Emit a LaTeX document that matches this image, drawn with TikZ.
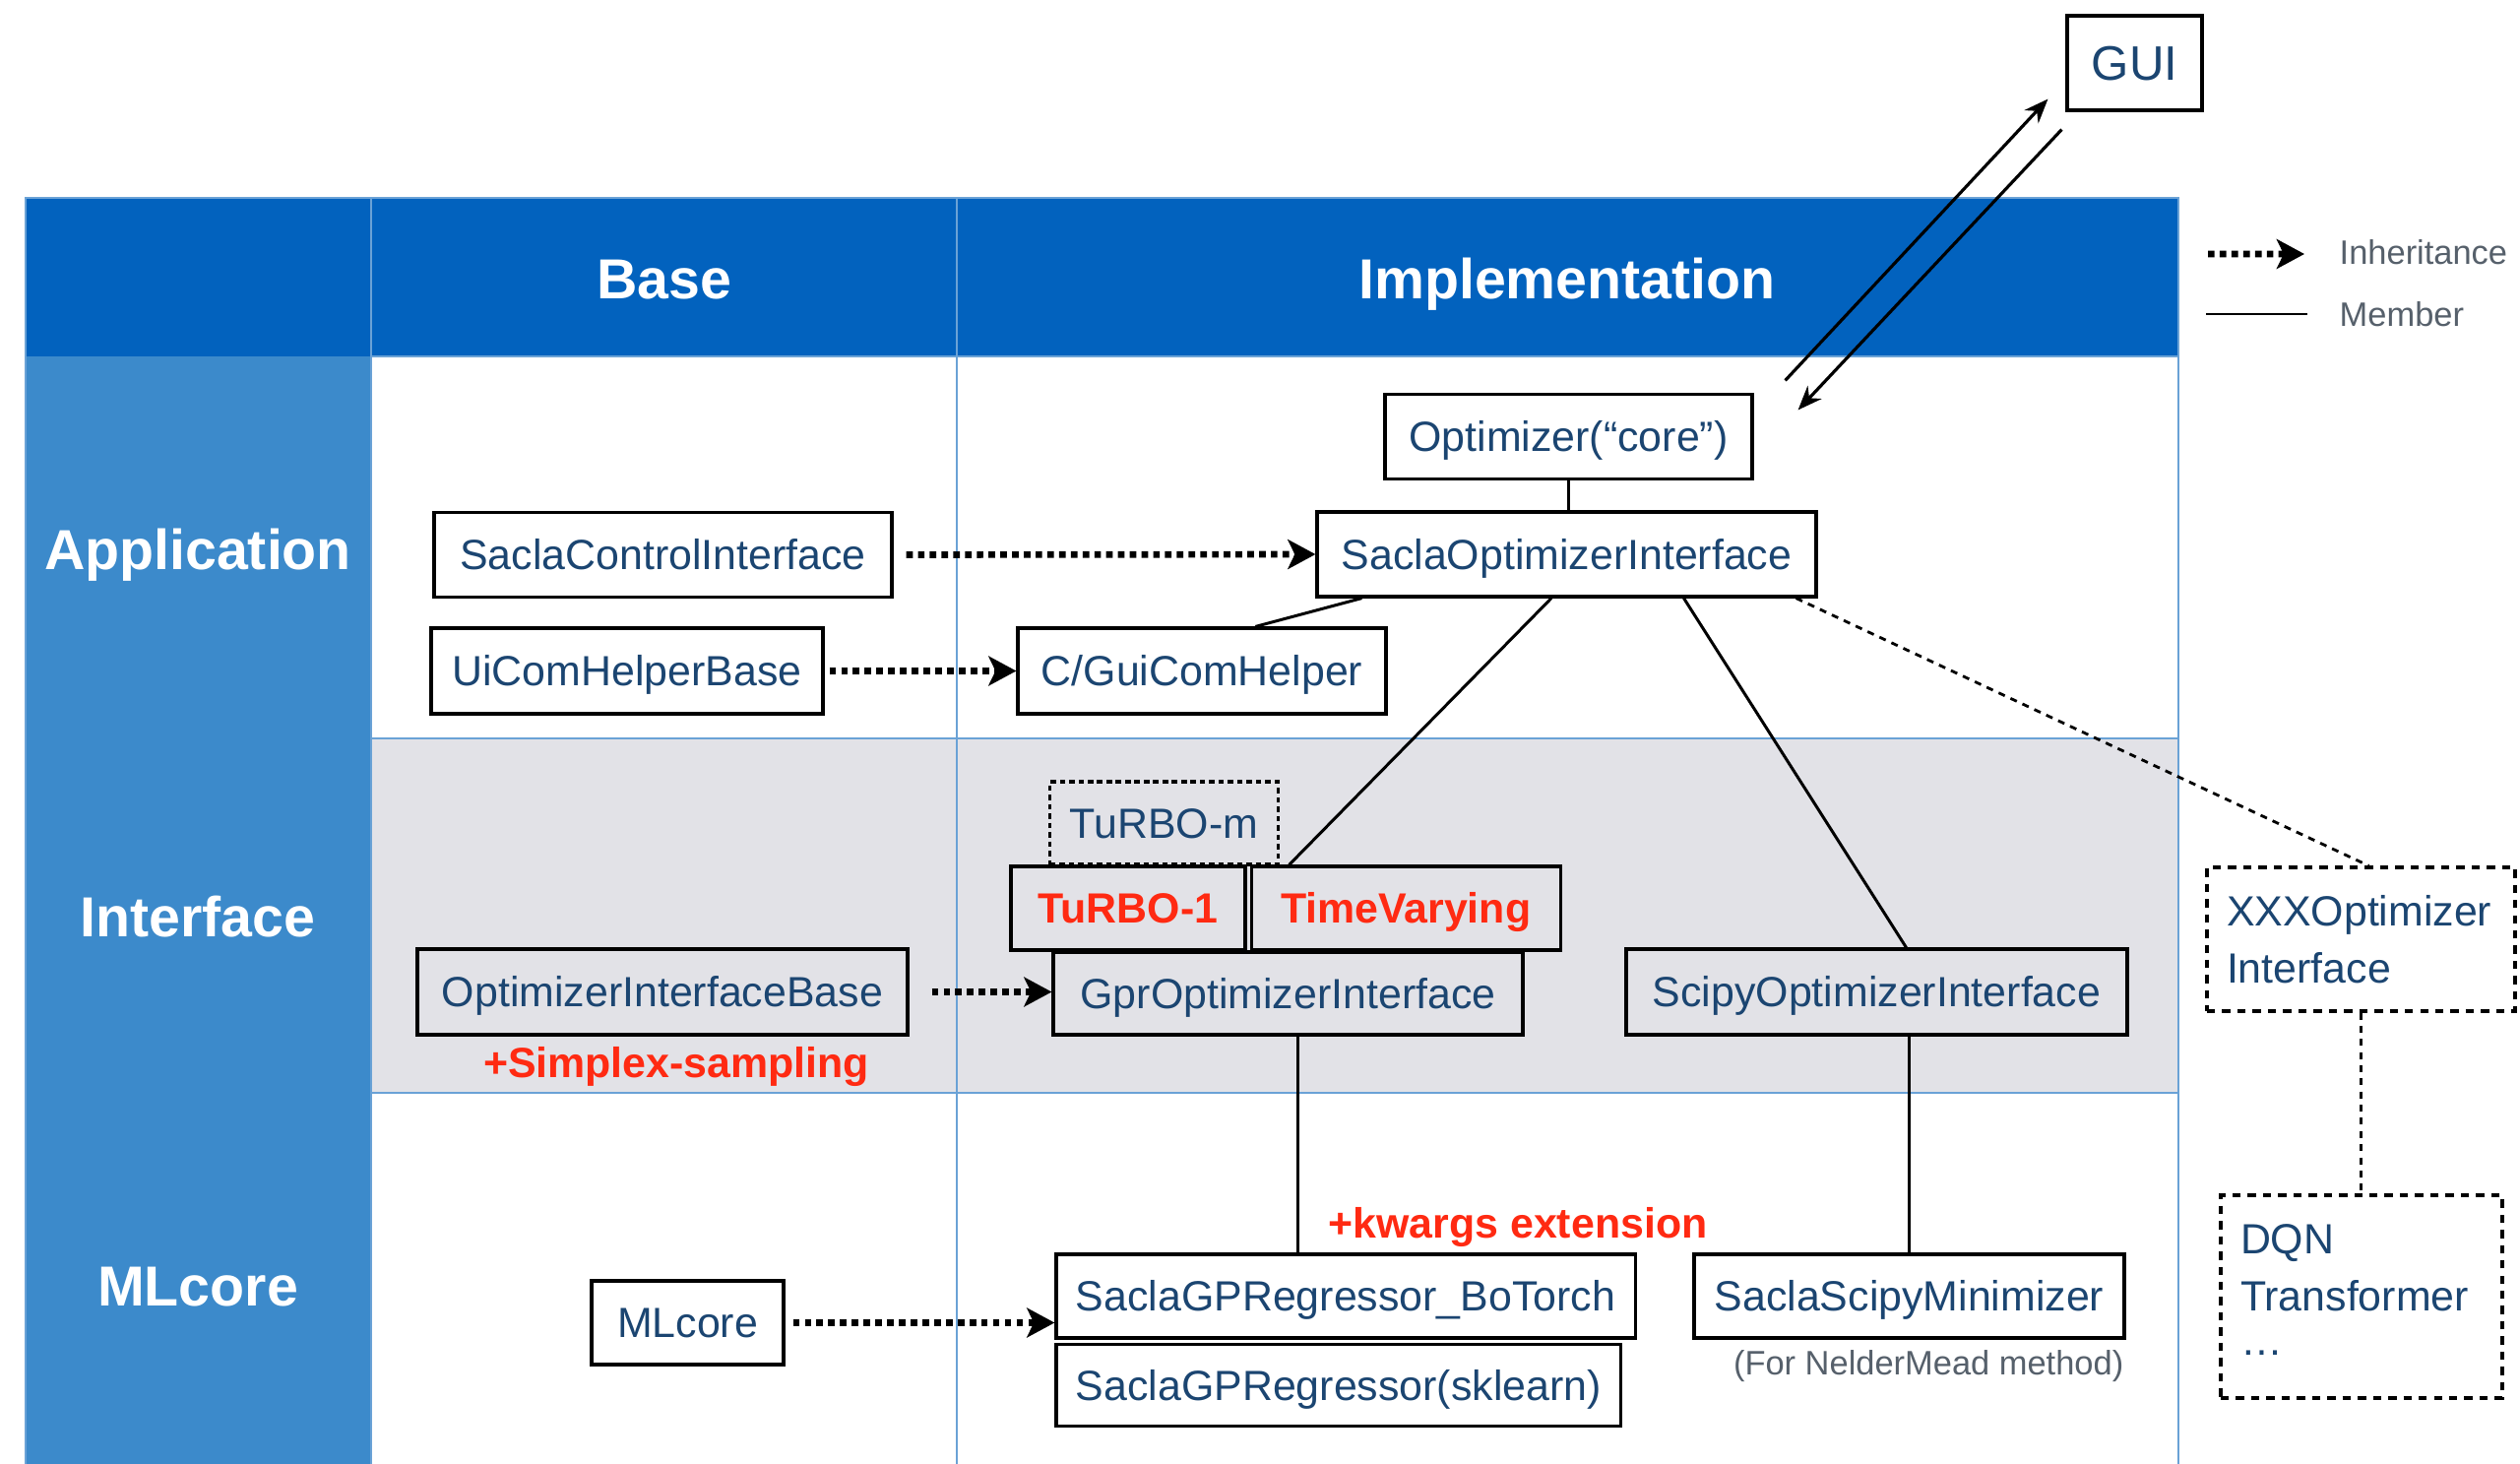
\documentclass[tikz,border=0pt]{standalone}
\usepackage{fontspec}
\setmainfont{Liberation Sans}
\usepackage{xcolor}
\usetikzlibrary{arrows.meta,positioning,backgrounds}
\definecolor{HeadBlue}{HTML}{0262BE}
\definecolor{SideBlue}{HTML}{3C8ACB}
\definecolor{RowGray}{HTML}{E2E2E7}
\definecolor{GridBlue}{HTML}{6AA2D6}
\definecolor{NavyTxt}{HTML}{1B4571}
\definecolor{HotRed}{HTML}{FF2A12}
\definecolor{NoteGray}{HTML}{56606B}
\tikzset{
  BX/.style={rectangle,draw,line width=0.9pt,text=NavyTxt,
             font=\fontsize{12.2}{16.5}\selectfont,inner xsep=0.2cm},
  cls/.style={BX,minimum height=0.86cm,text height=8.8pt,text depth=0pt},
  clsD/.style={cls,dash pattern=on 1.6pt off 1.1pt},
  grpD/.style={BX,align=left,dash pattern=on 2.4pt off 2pt},
  hot/.style={cls,text=HotRed,font=\fontsize{12.2}{14}\selectfont\bfseries},
  note/.style={text=HotRed,font=\fontsize{12.2}{14}\selectfont\bfseries},
  hdr/.style={text=white,font=\fontsize{16.3}{19}\selectfont\bfseries,
              text height=11.7pt,text depth=0pt},
  lgd/.style={text=NoteGray,font=\fontsize{9.8}{12}\selectfont,inner sep=0pt},
  inh/.style={line width=1.9pt,dash pattern=on 1.9pt off 1.5pt,
              -{Stealth[length=8pt,width=8.5pt,inset=2pt]}},
  mem/.style={line width=0.85pt},
  dsh/.style={line width=0.8pt,dash pattern=on 2pt off 1.8pt},
  flow/.style={line width=0.9pt,-{Stealth[length=7pt,width=5.5pt]}}
}

\begin{document}
\begin{tikzpicture}
  \useasboundingbox (0,0) rectangle (25.6,-14.87);

  \node[hdr] (hbase) at (6.745,-2.83) {Base};
  \node[hdr] (himpl) at (15.92,-2.83) {Implementation};
  \node[hdr] (rapp) at (2.01,-5.58) {Application};
  \node[hdr] (rifc) at (2.01,-9.31) {Interface};
  \node[hdr] (rml) at (2.01,-13.06) {MLcore};

  \node[cls,minimum width=1.37cm,minimum height=0.96cm,text height=10pt,font=\fontsize{14}{16}\selectfont] (gui) at (21.685,-0.64) {GUI};
  \node[cls,minimum width=3.73cm] (core) at (15.935,-4.435) {Optimizer(“core”)};
  \node[cls,minimum width=5.07cm] (soi) at (15.915,-5.63) {SaclaOptimizerInterface};
  \node[cls,minimum width=4.65cm] (sci) at (6.735,-5.635) {SaclaControlInterface};
  \node[cls,minimum width=3.98cm,minimum height=0.87cm] (uchb) at (6.37,-6.815) {UiComHelperBase};
  \node[cls,minimum width=3.74cm,minimum height=0.87cm] (gch) at (12.21,-6.815) {C/GuiComHelper};

  \node[hot,minimum width=2.38cm,minimum height=0.85cm] (tr1) at (11.46,-9.225) {TuRBO-1};
  \node[hot,minimum width=3.14cm,minimum height=0.85cm,right=0.03cm of tr1] (tv) {TimeVarying};
  \node[clsD,minimum width=2.31cm,minimum height=0.84cm] (trm) at (11.825,-8.36) {TuRBO-m};
  \node[cls,minimum width=4.77cm,minimum height=0.84cm] (goi) at (13.085,-10.09) {GprOptimizerInterface};
  \node[cls,minimum width=4.98cm,minimum height=0.87cm] (oib) at (6.73,-10.075) {OptimizerInterfaceBase};
  \node[cls,minimum width=5.09cm,minimum height=0.87cm] (spoi) at (19.065,-10.075) {ScipyOptimizerInterface};
  \node[note] (simplex) at (6.87,-10.83) {+Simplex-sampling};

  \node[grpD,minimum width=3.13cm,minimum height=1.46cm,text width=2.73cm] (xxx) at (23.985,-9.54) {XXXOptimizer\\Interface};
  \node[grpD,minimum width=2.86cm,minimum height=2.06cm,text width=2.46cm] (dqn) at (23.99,-13.17) {DQN\\Transformer\\\raisebox{0.6ex}{…}};

  \node[cls,minimum width=1.95cm,minimum height=0.85cm] (mlc) at (6.985,-13.435) {MLcore};
  \node[cls,minimum width=5.86cm,minimum height=0.85cm] (bot) at (13.67,-13.165) {SaclaGPRegressor\_BoTorch};
  \node[cls,minimum width=5.68cm,minimum height=0.83cm,below right=0.03cm and 0cm of bot.south west] (skl) {SaclaGPRegressor(sklearn)};
  \node[cls,minimum width=4.37cm,minimum height=0.85cm] (ssm) at (19.395,-13.165) {SaclaScipyMinimizer};
  \node[note] (kwargs) at (15.42,-12.46) {+kwargs extension};
  \node[lgd,anchor=east] (nm) at (21.58,-13.88) {(For NelderMead method)};

  \node[lgd,anchor=west] (lgI) at (23.76,-2.56) {Inheritance};
  \node[lgd,anchor=west] (lgM) at (23.76,-3.19) {Member};
  \coordinate (lgIa) at (22.43,-2.58);
  \coordinate (lgMa) at (22.41,-3.19);
  \draw[inh] (lgIa) -- ([xshift=-0.35cm,yshift=-0.02cm]lgI.west);
  \draw[mem] (lgMa) -- ([xshift=-0.32cm]lgM.west);

  \draw[flow] ([shift={(0.32,0.125)}]core.north east) -- ([shift={(-0.18,0.13)}]gui.south west);
  \draw[flow] ([shift={(-0.04,-0.18)}]gui.south west) -- ([shift={(0.45,-0.175)}]core.north east);

  \draw[mem] (core.south) -- (core.south |- soi.north);
  \draw[mem] ([xshift=0.47cm]soi.south west) -- ([xshift=2.43cm]gch.north west);
  \draw[mem] ([xshift=-0.155cm]soi.south) -- ([xshift=0.40cm]tv.north west);
  \draw[mem] ([xshift=1.19cm]soi.south) -- ([xshift=0.30cm]spoi.north);
  \draw[mem] ([xshift=0.10cm]goi.south) -- ([xshift=0.10cm]goi.south |- bot.north);
  \draw[mem] (ssm.north) -- (ssm.north |- spoi.south);
  \draw[dsh] ([xshift=-0.22cm]soi.south east) -- ([xshift=0.08cm]xxx.north);
  \draw[dsh] (xxx.south) -- (xxx.south |- dqn.north);

  \draw[inh] ([xshift=0.13cm]sci.east) -- (soi.west);
  \draw[inh] ([xshift=0.05cm]uchb.east) -- (gch.west);
  \draw[inh] ([xshift=0.23cm]oib.east) -- (oib.east -| goi.west);
  \draw[inh] ([xshift=0.08cm]mlc.east) -- (mlc.east -| bot.west);

  \begin{scope}[on background layer]
    \fill[HeadBlue] (0.26,-2.01) rectangle (22.13,-3.62);
    \fill[SideBlue] (0.26,-3.62) rectangle (3.77,-14.87);
    \fill[RowGray] (3.77,-7.50) rectangle (22.13,-11.10);
    \draw[GridBlue,line width=0.4pt] (0.26,-14.87) |- (22.13,-2.01) -- (22.13,-14.87);
    \draw[GridBlue,line width=0.4pt] (3.77,-2.01) -- (3.77,-14.87) (9.72,-2.01) -- (9.72,-14.87);
    \draw[GridBlue,line width=0.4pt] (3.77,-3.62) -- (22.13,-3.62) (3.77,-7.50) -- (22.13,-7.50) (3.77,-11.10) -- (22.13,-11.10);
  \end{scope}
\end{tikzpicture}
\end{document}
